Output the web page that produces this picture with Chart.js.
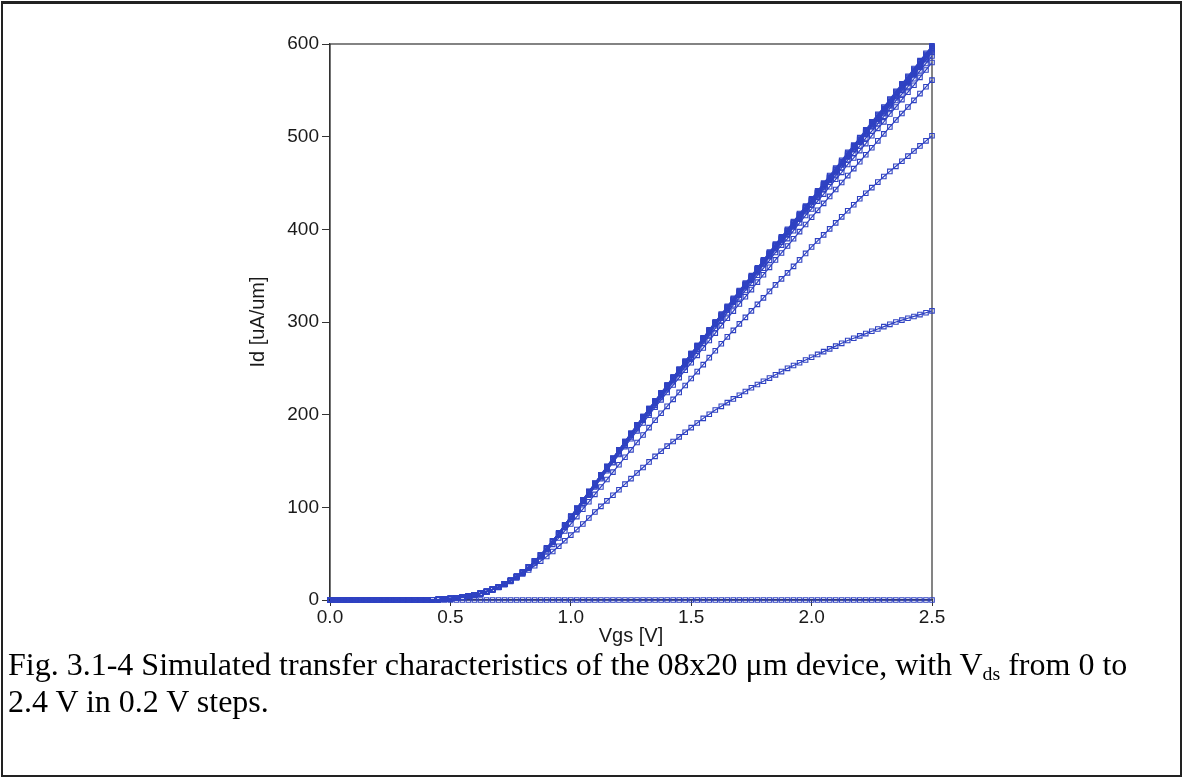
<!DOCTYPE html>
<html>
<head>
<meta charset="utf-8">
<script src="https://cdn.jsdelivr.net/npm/chart.js@4.4.1/dist/chart.umd.min.js"></script>
<style>
html, body { margin: 0; padding: 0; background: #fff; }
#frame { position: absolute; left: 1px; top: 1px; width: 1177px; height: 771px; border: 2px solid #222; border-top-width: 3px; }
#wrap { position: absolute; left: 0; top: 0; width: 1183px; height: 650px; }
#caption { position: absolute; left: 8px; top: 646px; font-family: "Liberation Serif", "Times New Roman", serif; font-size: 32px; line-height: 37px; color: #000; white-space: nowrap; }
#caption sub { font-size: 62%; vertical-align: -0.25em; line-height: 0; }
</style>
</head>
<body>
<div id="frame"></div>
<div id="wrap"><canvas id="c" width="1183" height="650"></canvas></div>
<div id="caption">Fig. 3.1-4 Simulated transfer characteristics of the 08x20 μm device, with V<sub>ds</sub> from 0 to<br>2.4 V in 0.2 V steps.</div>
<script>
// gate voltage sweep (V)
const vgs = [0,0.025,0.05,0.075,0.1,0.125,0.15,0.175,0.2,0.225,0.25,0.275,0.3,0.325,0.35,0.375,0.4,0.425,0.45,0.475,0.5,0.525,0.55,0.575,0.6,0.625,0.65,0.675,0.7,0.725,0.75,0.775,0.8,0.825,0.85,0.875,0.9,0.925,0.95,0.975,1,1.025,1.05,1.075,1.1,1.125,1.15,1.175,1.2,1.225,1.25,1.275,1.3,1.325,1.35,1.375,1.4,1.425,1.45,1.475,1.5,1.525,1.55,1.575,1.6,1.625,1.65,1.675,1.7,1.725,1.75,1.775,1.8,1.825,1.85,1.875,1.9,1.925,1.95,1.975,2,2.025,2.05,2.075,2.1,2.125,2.15,2.175,2.2,2.225,2.25,2.275,2.3,2.325,2.35,2.375,2.4,2.425,2.45,2.475,2.5];

// drain current (uA/um), one array per Vds
const id_vds00 = [0,0,0,0,0,0,0,0,0,0,0,0,0,0,0,0,0,0,0,0,0,0,0,0,0,0,0,0,0,0,0,0,0,0,0,0,0,0,0,0,0,0,0,0,0,0,0,0,0,0,0,0,0,0,0,0,0,0,0,0,0,0,0,0,0,0,0,0,0,0,0,0,0,0,0,0,0,0,0,0,0,0,0,0,0,0,0,0,0,0,0,0,0,0,0,0,0,0,0,0,0];
const id_vds02 = [0,0,0,0,0,0,0,0,0,0,0,0,0,0,0,0,0,0.2,0.5,0.9,1.4,2,2.8,3.8,5,6.6,8.5,10.9,13.5,16.6,20,23.8,28,32.4,37,42,47,52.4,58,64,70,76,82,88.5,95,101,107,113,119,125,131,137,143,149,155,160.5,166,171,176,181,186,191,196,200.5,205,209,213,217,221,225,229,232.5,236,239.5,243,246.5,250,253,256,259,262,265,268,271,274,277,280,282.5,285,287.5,290,292.5,295,297.5,300,302,304,306,308,310,312];
const id_vds04 = [0,0,0,0,0,0,0,0,0,0,0,0,0,0,0,0,0,0.2,0.5,1,1.5,2.2,3,4.2,5.5,7.2,9,11.4,14,17.2,20.5,24.6,29,34.4,40,46.4,53,60,67,74.5,82,90,98,106,114,122,130,138,146,154,162,170,178,186,194,201.5,209,216.5,224,231.5,239,246.5,254,261.5,269,276.5,284,291,298,305,312,319,326,333,340,346.5,353,360,367,374,381,387.5,394,400.5,407,413.5,420,426.5,433,439,445,451,457,462.5,468,473.5,479,484.5,490,495.5,501];
const id_vds06 = [0,0,0,0,0,0,0,0,0,0,0,0,0,0,0,0,0,0.2,0.5,1,1.5,2.2,3,4.2,5.5,7.2,9,11.4,14,17.4,21,25.2,29.5,35.2,41,47.6,54.5,62.2,70,78.4,87,95.8,104.5,113.2,122,130.8,139.5,148.2,157,165.5,174,182.5,191,199.5,208,216,224,232,240,248,256,264,272,280,288,296,304,311.8,319.5,327.2,335,343,351,359,367,374.5,382,389.8,397.5,405.2,413,420.5,428,435.5,443,450.5,458,465.5,473,480.5,488,495.5,503,510.5,518,525,532,539.2,546.5,553.8,561];
const id_vds08 = [0,0,0,0,0,0,0,0,0,0,0,0,0,0,0,0,0,0.2,0.5,1,1.5,2.2,3,4.2,5.5,7.2,9,11.4,14,17.4,21,25.4,30,35.8,42,47.8,55,62.8,71,78.8,88,97,106,114,123,132,141,149,158,167,176,185,194,201.5,210,218.5,227,235.5,244,251.5,260,268.5,277,285.5,293,301.5,310,318.5,326,334,342,350.5,358,366.5,375,383,390,398.5,407,415,422,430.5,438,446,454,461.5,470,477,485,492.5,501,509,516,524.5,532,540,548,555.5,564,572,580];
const id_vds10 = [0,0,0,0,0,0,0,0,0,0,0,0,0,0,0,0,0,0.2,0.5,1,1.5,2.2,3,4.2,5.5,7.2,9,11.4,14,17.4,21,25.4,30,35.8,42,47.8,55,62.8,71,79.8,89,98,107,115,124,133,142,151,160,169,178,187,195,203.5,212,220.5,229,237.5,246,254.5,262,270.5,279,287.5,296,304.5,313,321.5,329,337,345,353.5,362,370.5,378,386,394,402.5,411,419,426,434.5,443,451,458,466.5,475,482,490,498.5,506,514,522,530.5,539,546,554,562.5,571,579,587];
const id_vds12 = [0,0,0,0,0,0,0,0,0,0,0,0,0,0,0,0,0,0.2,0.5,1,1.5,2.2,3,4.2,5.5,7.2,9,11.4,14,17.4,21,25.4,30,35.8,42,48.8,56,63.8,72,80.8,90,98,107,116,125,134,143,152,161,169,178,187,196,204.5,213,221.5,230,238.5,247,255.5,264,272.5,281,289.5,298,304.5,313,321.5,330,338,346,354.5,363,371.5,380,388,396,404.5,413,421,429,436.5,445,453,461,469.5,478,486,494,502.5,511,517,525,533.5,542,550,558,566.5,575,583,591];
const id_vds14 = [0,0,0,0,0,0,0,0,0,0,0,0,0,0,0,0,0,0.2,0.5,1,1.5,2.2,3,4.2,5.5,7.2,9,11.4,14,17.4,21,25.4,30,35.8,42,48.8,56,63.8,72,80.8,90,98,107,116,125,134,143,152,161,169,178,187,196,204.5,213,221.5,230,238.5,247,255.5,264,272.5,281,289.5,298,305.5,314,322.5,331,339,347,355.5,364,372.5,381,389,397,405.5,414,422,430,437.5,446,454,462,470.5,479,487,495,503.5,512,519,527,535.5,544,552,560,568.5,577,585,593];
const id_vds16 = [0,0,0,0,0,0,0,0,0,0,0,0,0,0,0,0,0,0.2,0.5,1,1.5,2.2,3,4.2,5.5,7.2,9,11.4,14,17.4,21,25.4,30,35.8,42,48.8,56,63.8,72,80.8,90,98,107,116,125,134,143,152,161,170,179,188,197,205.5,214,222.5,231,239.5,248,256.5,265,273.5,282,290.5,299,306.5,315,323.5,332,340,348,356.5,365,373.5,382,390,398,406.5,415,423,431,438.5,447,455,463,471.5,480,488,496,504.5,513,520,528,536.5,545,553,561,569.5,578,586,594];
const id_vds18 = [0,0,0,0,0,0,0,0,0,0,0,0,0,0,0,0,0,0.2,0.5,1,1.5,2.2,3,4.2,5.5,7.2,9,11.4,14,17.4,21,25.4,30,35.8,42,48.8,56,63.8,72,80.8,90,98,107,116,125,134,143,152,161,170,179,188,197,205.5,214,222.5,231,239.5,248,256.5,265,273.5,282,290.5,299,306.5,315,323.5,332,340,348,356.5,365,373.5,382,390,398,406.5,415,423,431,439.5,448,456,464,472.5,481,489,497,505.5,514,521,529,537.5,546,554,562,570.5,579,587,595];
const id_vds20 = [0,0,0,0,0,0,0,0,0,0,0,0,0,0,0,0,0,0.2,0.5,1,1.5,2.2,3,4.2,5.5,7.2,9,11.4,14,17.4,21,25.4,30,35.8,42,48.8,56,63.8,72,80.8,90,99,108,117,126,135,144,153,162,170,179,188,197,205.5,214,222.5,231,239.5,248,256.5,265,273.5,282,290.5,299,307.5,316,324.5,333,341,349,357.5,366,374.5,383,391,399,407.5,416,424,432,439.5,448,456,464,472.5,481,489,497,505.5,514,522,530,538.5,547,555,563,571.5,580,588,596];
const id_vds22 = [0,0,0,0,0,0,0,0,0,0,0,0,0,0,0,0,0,0.2,0.5,1,1.5,2.2,3,4.2,5.5,7.2,9,11.4,14,17.4,21,25.4,30,35.8,42,48.8,56,63.8,72,80.8,90,99,108,117,126,135,144,153,162,171,180,189,198,206.5,215,223.5,232,240.5,249,257.5,266,274.5,283,291.5,300,307.5,316,324.5,333,341,349,357.5,366,374.5,383,391,399,407.5,416,424,432,440.5,449,457,465,473.5,482,490,498,506.5,515,523,531,539.5,548,556,564,572.5,581,589,597];
const id_vds24 = [0,0,0,0,0,0,0,0,0,0,0,0,0,0,0,0,0,0.2,0.5,1,1.5,2.2,3,4.2,5.5,7.2,9,11.4,14,17.4,21,25.4,30,35.8,42,48.8,56,63.8,72,80.8,90,99,108,117,126,135,144,153,162,171,180,189,198,206.5,215,223.5,232,240.5,249,257.5,266,274.5,283,291.5,300,308.5,317,325.5,334,342,350,358.5,367,375.5,384,392,400,408.5,417,425,433,441.5,450,458,466,474.5,483,491,499,507.5,516,524,532,540.5,549,557,565,573.5,582,590,598];

const vdsLabels = ["Vds=0.0","Vds=0.2","Vds=0.4","Vds=0.6","Vds=0.8","Vds=1.0","Vds=1.2","Vds=1.4","Vds=1.6","Vds=1.8","Vds=2.0","Vds=2.2","Vds=2.4"];
const idSeries = [id_vds00,id_vds02,id_vds04,id_vds06,id_vds08,id_vds10,id_vds12,id_vds14,id_vds16,id_vds18,id_vds20,id_vds22,id_vds24];

const xTicks = [0, 0.5, 1.0, 1.5, 2.0, 2.5];
const yTicks = [0, 100, 200, 300, 400, 500, 600];

const blue = "#2f42c2";
const axisColor = "#333";
const labelFont = "Liberation Sans, Arial, sans-serif";

// frame around the plot area
const boxBorder = {
  id: "boxBorder",
  beforeDatasetsDraw(chart) {
    const { ctx, chartArea: a } = chart;
    ctx.save();
    ctx.strokeStyle = axisColor;
    ctx.lineWidth = 1.2;
    ctx.strokeRect(a.left, a.top, a.right - a.left, a.bottom - a.top);
    ctx.restore();
  }
};

new Chart(document.getElementById("c"), {
  type: "line",
  data: {
    datasets: idSeries.map((ys, i) => ({
      label: vdsLabels[i],
      data: vgs.map((v, k) => ({ x: v, y: ys[k] })),
      borderColor: blue,
      borderWidth: 1.2,
      pointStyle: "rect",
      pointRadius: 3.2,
      pointBorderWidth: 1.1,
      pointBorderColor: blue,
      pointBackgroundColor: "rgba(255,255,255,0)",
      tension: 0,
      clip: false
    }))
  },
  plugins: [boxBorder],
  options: {
    responsive: false,
    animation: false,
    events: [],
    layout: { padding: { left: 244, right: 251, top: 44, bottom: 0 } },
    plugins: { legend: { display: false }, tooltip: { enabled: false } },
    scales: {
      x: {
        type: "linear",
        min: 0,
        max: 2.5,
        afterBuildTicks: s => { s.ticks = xTicks.map(v => ({ value: v })); },
        afterFit: s => { s.height = 50; },
        grid: { drawOnChartArea: false, drawTicks: true, tickLength: 6, color: axisColor },
        border: { display: true, color: axisColor, width: 1.2 },
        ticks: {
          color: "#1a1a1a",
          padding: 0,
          font: { family: labelFont, size: 19 },
          callback: v => Number(v).toFixed(1)
        },
        title: {
          display: true,
          text: "Vgs [V]",
          color: "#1a1a1a",
          padding: { top: 0, bottom: 2 },
          font: { family: labelFont, size: 20 }
        }
      },
      y: {
        min: 0,
        max: 600,
        afterBuildTicks: s => { s.ticks = yTicks.map(v => ({ value: v })); },
        afterFit: s => { s.width = 86; },
        grid: { drawOnChartArea: false, drawTicks: true, tickLength: 8, color: axisColor },
        border: { display: true, color: axisColor, width: 1.2 },
        ticks: {
          color: "#1a1a1a",
          padding: 3,
          font: { family: labelFont, size: 19 }
        },
        title: {
          display: true,
          text: "Id [uA/um]",
          color: "#1a1a1a",
          padding: { top: 2, bottom: 0 },
          font: { family: labelFont, size: 20 }
        }
      }
    }
  }
});
</script>
</body>
</html>
